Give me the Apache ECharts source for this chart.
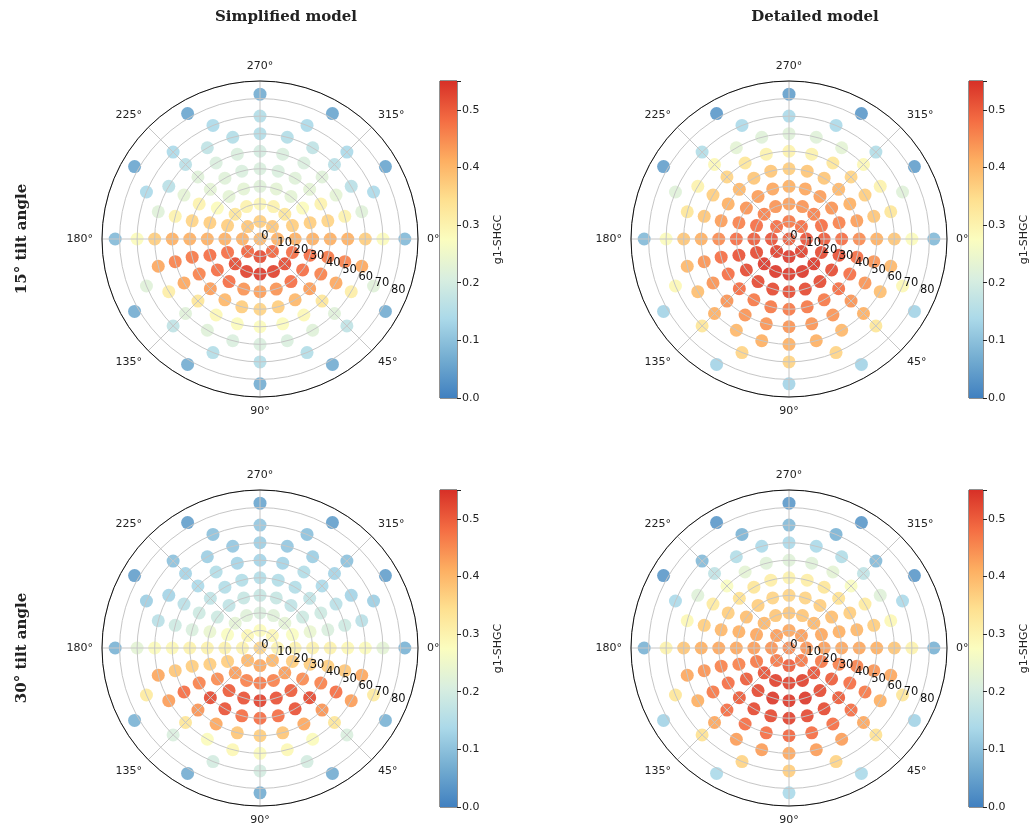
<!DOCTYPE html>
<html lang="en">

<head>
  <meta charset="UTF-8" />
  <title>g1-SHGC polar maps</title>
  <script src="https://cdn.jsdelivr.net/npm/echarts@6/dist/echarts.min.js"></script>
  <style>
    body {
      margin: 0;
      background: #fff;
    }

    #chart {
      width: 1031px;
      height: 827px;
    }
  </style>
</head>

<body>
  <div id="chart"></div>

  <script>
    // Klems basis: incidence angle of each ring and number of patches in it
    const ringTheta = [0, 10, 20, 30, 40, 50, 60, 70, 82.5];
    const ringCount = [1, 8, 16, 20, 24, 24, 24, 16, 12];

    // g1-SHGC per patch, ring by ring, azimuth 0 -> 360 (clockwise)
    const simplified15 = [
      [0.40],
      [0.41, 0.49, 0.52, 0.49, 0.41, 0.38, 0.37, 0.38],
      [0.41, 0.48, 0.52, 0.53, 0.54, 0.53, 0.52, 0.48, 0.41, 0.37, 0.33, 0.30, 0.29, 0.30, 0.33, 0.37],
      [0.41, 0.48, 0.48, 0.48, 0.44, 0.43, 0.44, 0.48, 0.48, 0.48, 0.41, 0.37, 0.28, 0.23, 0.23, 0.22, 0.23, 0.23, 0.28, 0.37],
      [0.41, 0.47, 0.46, 0.43, 0.40, 0.37, 0.36, 0.37, 0.40, 0.43, 0.46, 0.47, 0.41, 0.36, 0.30, 0.23, 0.22, 0.21, 0.21, 0.21, 0.22, 0.23, 0.30, 0.36],
      [0.41, 0.46, 0.42, 0.33, 0.29, 0.28, 0.28, 0.28, 0.29, 0.33, 0.42, 0.46, 0.41, 0.30, 0.23, 0.22, 0.21, 0.21, 0.20, 0.21, 0.21, 0.22, 0.23, 0.30],
      [0.37, 0.42, 0.31, 0.22, 0.22, 0.21, 0.21, 0.21, 0.22, 0.22, 0.31, 0.42, 0.37, 0.22, 0.16, 0.16, 0.17, 0.15, 0.15, 0.15, 0.17, 0.16, 0.16, 0.22],
      [0.28, 0.22, 0.17, 0.15, 0.15, 0.15, 0.17, 0.22, 0.28, 0.14, 0.14, 0.14, 0.15, 0.14, 0.14, 0.14],
      [0.09, 0.07, 0.07, 0.07, 0.07, 0.07, 0.09, 0.06, 0.06, 0.07, 0.06, 0.06]
    ];

    const detailed15 = [
      [0.50],
      [0.51, 0.53, 0.54, 0.53, 0.51, 0.48, 0.47, 0.48],
      [0.50, 0.52, 0.54, 0.54, 0.54, 0.54, 0.54, 0.52, 0.50, 0.48, 0.46, 0.44, 0.43, 0.44, 0.46, 0.48],
      [0.48, 0.51, 0.52, 0.52, 0.52, 0.52, 0.52, 0.52, 0.52, 0.51, 0.48, 0.46, 0.44, 0.43, 0.42, 0.41, 0.42, 0.43, 0.44, 0.46],
      [0.45, 0.48, 0.48, 0.48, 0.47, 0.47, 0.47, 0.47, 0.47, 0.48, 0.48, 0.48, 0.45, 0.43, 0.41, 0.40, 0.38, 0.38, 0.37, 0.38, 0.38, 0.40, 0.41, 0.43],
      [0.41, 0.44, 0.44, 0.44, 0.44, 0.44, 0.44, 0.44, 0.44, 0.44, 0.44, 0.44, 0.41, 0.38, 0.37, 0.36, 0.33, 0.30, 0.30, 0.30, 0.33, 0.36, 0.37, 0.38],
      [0.38, 0.40, 0.39, 0.41, 0.40, 0.41, 0.41, 0.41, 0.40, 0.41, 0.39, 0.40, 0.38, 0.33, 0.30, 0.29, 0.23, 0.22, 0.22, 0.22, 0.23, 0.29, 0.30, 0.33],
      [0.28, 0.29, 0.33, 0.36, 0.36, 0.36, 0.33, 0.29, 0.28, 0.22, 0.15, 0.14, 0.14, 0.14, 0.15, 0.22],
      [0.09, 0.13, 0.13, 0.13, 0.13, 0.13, 0.09, 0.05, 0.04, 0.05, 0.04, 0.05]
    ];

    const simplified30 = [
      [0.36],
      [0.30, 0.40, 0.42, 0.40, 0.30, 0.29, 0.28, 0.29],
      [0.30, 0.37, 0.43, 0.46, 0.47, 0.46, 0.43, 0.37, 0.30, 0.27, 0.23, 0.22, 0.21, 0.22, 0.23, 0.27],
      [0.30, 0.37, 0.45, 0.50, 0.51, 0.53, 0.51, 0.50, 0.45, 0.37, 0.30, 0.24, 0.19, 0.17, 0.18, 0.18, 0.18, 0.17, 0.19, 0.24],
      [0.30, 0.37, 0.46, 0.52, 0.51, 0.48, 0.48, 0.48, 0.51, 0.52, 0.46, 0.37, 0.30, 0.21, 0.19, 0.17, 0.15, 0.15, 0.15, 0.15, 0.15, 0.17, 0.19, 0.21],
      [0.29, 0.38, 0.48, 0.44, 0.42, 0.38, 0.37, 0.38, 0.42, 0.44, 0.48, 0.38, 0.29, 0.19, 0.16, 0.14, 0.15, 0.13, 0.13, 0.13, 0.15, 0.14, 0.16, 0.19],
      [0.28, 0.42, 0.43, 0.33, 0.28, 0.29, 0.28, 0.29, 0.28, 0.33, 0.43, 0.42, 0.28, 0.16, 0.13, 0.13, 0.12, 0.11, 0.12, 0.11, 0.12, 0.13, 0.13, 0.16],
      [0.23, 0.32, 0.21, 0.20, 0.20, 0.20, 0.21, 0.32, 0.23, 0.12, 0.10, 0.10, 0.11, 0.10, 0.10, 0.12],
      [0.08, 0.08, 0.07, 0.07, 0.07, 0.08, 0.08, 0.05, 0.05, 0.06, 0.05, 0.05]
    ];

    const detailed30 = [
      [0.45],
      [0.44, 0.47, 0.50, 0.47, 0.44, 0.43, 0.42, 0.43],
      [0.43, 0.47, 0.51, 0.53, 0.53, 0.53, 0.51, 0.47, 0.43, 0.42, 0.40, 0.38, 0.38, 0.38, 0.40, 0.42],
      [0.42, 0.46, 0.50, 0.52, 0.54, 0.54, 0.54, 0.52, 0.50, 0.46, 0.42, 0.41, 0.39, 0.37, 0.36, 0.36, 0.36, 0.37, 0.39, 0.41],
      [0.42, 0.46, 0.48, 0.50, 0.52, 0.52, 0.53, 0.52, 0.52, 0.50, 0.48, 0.46, 0.42, 0.40, 0.37, 0.34, 0.33, 0.31, 0.30, 0.31, 0.33, 0.34, 0.37, 0.40],
      [0.41, 0.44, 0.47, 0.48, 0.48, 0.48, 0.49, 0.48, 0.48, 0.48, 0.47, 0.44, 0.41, 0.37, 0.32, 0.27, 0.23, 0.22, 0.22, 0.22, 0.23, 0.27, 0.32, 0.37],
      [0.38, 0.42, 0.41, 0.42, 0.43, 0.43, 0.42, 0.43, 0.43, 0.42, 0.41, 0.42, 0.38, 0.29, 0.22, 0.17, 0.15, 0.14, 0.14, 0.14, 0.15, 0.17, 0.22, 0.29],
      [0.30, 0.33, 0.34, 0.36, 0.37, 0.36, 0.34, 0.33, 0.30, 0.14, 0.09, 0.08, 0.09, 0.08, 0.09, 0.14],
      [0.08, 0.13, 0.14, 0.14, 0.14, 0.13, 0.08, 0.04, 0.04, 0.04, 0.04, 0.04]
    ];

    const colTitles = ['Simplified model', 'Detailed model'];
    const rowTitles = ['15° tilt angle', '30° tilt angle'];
    const cbMax = 0.55;
    const cmap = ['#4080c0', '#74add1', '#abd9e9', '#d8eee0', '#fbfdbf', '#fee090', '#fdae61', '#f46d43', '#d73027'];

    const panels = [
      { data: simplified15, cx: 260, cy: 239, cbLeft: 440, cbTop: 81 },
      { data: detailed15, cx: 789, cy: 239, cbLeft: 969, cbTop: 81 },
      { data: simplified30, cx: 260, cy: 648, cbLeft: 440, cbTop: 490 },
      { data: detailed30, cx: 789, cy: 648, cbLeft: 969, cbTop: 490 }
    ];

    const R = 158;
    const tickFont = { color: '#222', fontSize: 11, fontFamily: 'DejaVu Sans' };

    function patchData(rings) {
      const pts = [];
      rings.forEach((vals, i) => {
        vals.forEach((v, k) => pts.push([ringTheta[i], k * 360 / ringCount[i], v]));
      });
      return pts;
    }

    const polar = [], angleAxis = [], radiusAxis = [];
    const grid = [], xAxis = [], yAxis = [];
    const scatterSeries = [], barSeries = [];

    panels.forEach((p, i) => {
      // data polar: grid lines + azimuth labels
      polar.push({ center: [p.cx, p.cy], radius: R });
      angleAxis.push({
        polarIndex: 2 * i, type: 'value', min: 0, max: 360, interval: 45,
        startAngle: 0, clockwise: true, z: 3,
        axisLine: { show: false },
        axisTick: { show: false },
        axisLabel: { ...tickFont, margin: 9, formatter: v => v >= 360 ? '' : v + '°' },
        splitLine: { show: true, lineStyle: { color: '#c6c6c6', width: 1 } }
      });
      radiusAxis.push({
        polarIndex: 2 * i, type: 'value', min: 0, max: 90, interval: 10, z: 3,
        axisLine: { show: false }, axisTick: { show: false }, axisLabel: { show: false },
        splitLine: { show: true, lineStyle: { color: '#c6c6c6', width: 1 } }
      });

      // overlay polar: black frame + radial labels along 22.5°
      polar.push({ center: [p.cx, p.cy], radius: R });
      angleAxis.push({
        polarIndex: 2 * i + 1, type: 'value', min: 0, max: 360,
        startAngle: 337.5, clockwise: true, z: 4,
        axisLine: { show: true, lineStyle: { color: '#111', width: 1 } },
        axisTick: { show: false }, axisLabel: { show: false }, splitLine: { show: false }
      });
      radiusAxis.push({
        polarIndex: 2 * i + 1, type: 'value', min: 0, max: 90, interval: 10, z: 4,
        axisLine: { show: false }, axisTick: { show: false }, splitLine: { show: false },
        axisLabel: { ...tickFont, fontSize: 11.5, color: '#111', margin: 3, formatter: v => v >= 90 ? '' : String(v) }
      });

      scatterSeries.push({
        type: 'scatter', coordinateSystem: 'polar', polarIndex: 2 * i,
        data: patchData(p.data), symbolSize: 13, z: 1, silent: true,
        itemStyle: { opacity: 0.92 }
      });

      // colorbar
      grid.push({
        left: p.cbLeft, top: p.cbTop, width: 17, height: 317,
        show: true, borderColor: '#222', borderWidth: 1, backgroundColor: 'transparent'
      });
      xAxis.push({ gridIndex: i, type: 'category', data: ['g'], show: false });
      yAxis.push({
        gridIndex: i, type: 'value', min: 0, max: cbMax, interval: 0.1, position: 'right',
        axisLine: { show: false },
        axisTick: { show: true, length: 4, lineStyle: { color: '#222' } },
        axisLabel: { ...tickFont, margin: 5, formatter: v => v > 0.5001 ? '' : v.toFixed(1) },
        splitLine: { show: false },
        name: 'g1-SHGC', nameLocation: 'middle', nameRotate: 90, nameGap: 36,
        nameTextStyle: { ...tickFont }
      });
      barSeries.push({
        type: 'bar', xAxisIndex: i, yAxisIndex: i, data: [cbMax], barWidth: '100%', silent: true,
        itemStyle: {
          color: {
            type: 'linear', x: 0, y: 1, x2: 0, y2: 0,
            colorStops: cmap.map((c, j) => ({ offset: j / (cmap.length - 1), color: c }))
          }
        }
      });
    });

    const headFont = 'bold 15px "DejaVu Serif", serif';
    const graphic = [
      { type: 'text', x: 286, y: 17, style: { text: colTitles[0], font: headFont, fill: '#222', textAlign: 'center', textVerticalAlign: 'middle' } },
      { type: 'text', x: 815, y: 17, style: { text: colTitles[1], font: headFont, fill: '#222', textAlign: 'center', textVerticalAlign: 'middle' } },
      { type: 'text', x: 22, y: 239, rotation: Math.PI / 2, style: { text: rowTitles[0], font: headFont, fill: '#222', textAlign: 'center', textVerticalAlign: 'middle' } },
      { type: 'text', x: 22, y: 648, rotation: Math.PI / 2, style: { text: rowTitles[1], font: headFont, fill: '#222', textAlign: 'center', textVerticalAlign: 'middle' } }
    ];

    const chart = echarts.init(document.getElementById('chart'));
    chart.setOption({
      backgroundColor: '#fff',
      animation: false,
      polar, angleAxis, radiusAxis,
      grid, xAxis, yAxis,
      visualMap: {
        type: 'continuous', show: false, min: 0, max: cbMax, dimension: 2,
        seriesIndex: [0, 1, 2, 3], inRange: { color: cmap }
      },
      graphic,
      series: [...scatterSeries, ...barSeries]
    });
  </script>
</body>

</html>
